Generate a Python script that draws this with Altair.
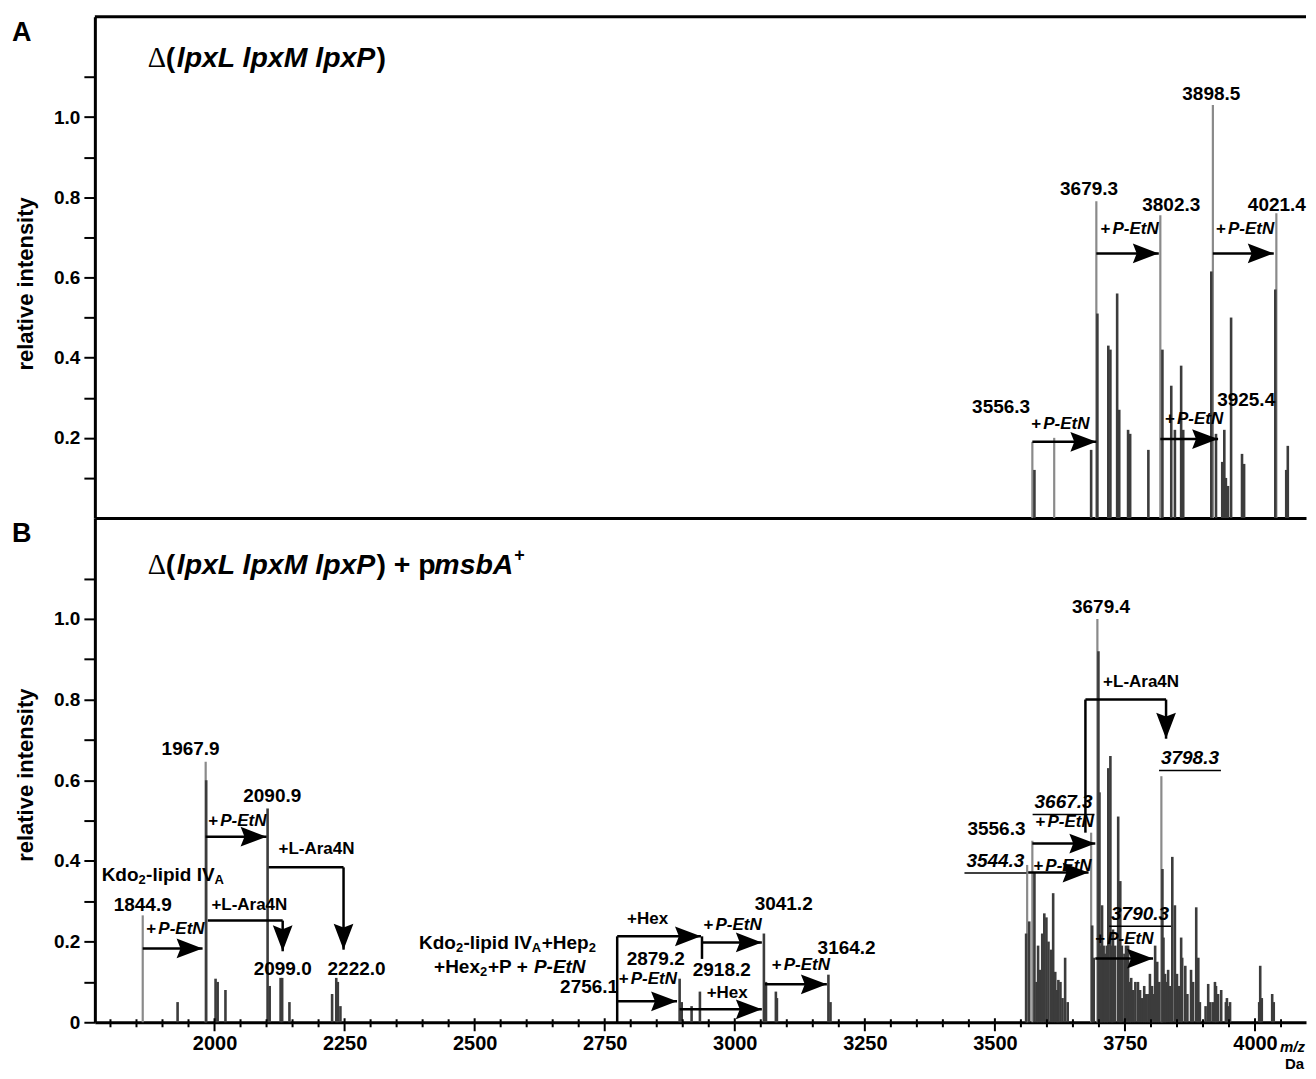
import altair as alt
import pandas as pd

FONT = "Liberation Sans"
X_MIN, X_MAX = 1770, 4098
W = 1213
HA, HB = 502, 505

# ---------------- Panel A data ----------------
A_LIGHT_MZ = [3572, 3614, 3695, 3818, 3919, 4041]
A_LIGHT_INT = [0.19, 0.20, 0.79, 0.755, 1.03, 0.76]
A_DARK_MZ = [3576, 3685, 3697, 3718, 3722, 3735, 3739, 3756, 3760, 3795, 3822, 3839, 3846, 3858,
             3862, 3916, 3925, 3937, 3941, 3944, 3948, 3954, 3975, 3979, 4039, 4060, 4063]
A_DARK_INT = [0.12, 0.17, 0.51, 0.43, 0.42, 0.56, 0.27, 0.22, 0.21, 0.17, 0.42, 0.33, 0.22, 0.38,
              0.22, 0.615, 0.21, 0.14, 0.22, 0.10, 0.08, 0.50, 0.16, 0.135, 0.57, 0.12, 0.18]
A_LAB_TEXT = ["3556.3", "3679.3", "3802.3", "3898.5", "4021.4", "3925.4"]
A_LAB_MZ = [3512, 3681, 3839, 3916, 4042, 3983]
A_LAB_INT = [0.277, 0.82, 0.78, 1.057, 0.78, 0.294]
A_ARR_FROM = [3572, 3695, 3818, 3919]
A_ARR_TO = [3695, 3815, 3929, 4036]
A_ARR_INT = [0.19, 0.66, 0.197, 0.66]
A_PE_MZ = [3570, 3703, 3827, 3925]
A_PE_INT = [0.234, 0.72, 0.247, 0.72]

# ---------------- Panel B data ----------------
B_LIGHT_MZ = [1862, 1983, 3562, 3572, 3685, 3697, 3820]
B_LIGHT_INT = [0.265, 0.646, 0.39, 0.45, 0.47, 1.0, 0.61]
B_DARK_MZ = [1929, 1984, 2002, 2006, 2021, 2102, 2106, 2127, 2130, 2144, 2226, 2234, 2237, 2242,
             2894, 2898, 2917, 2933, 3056, 3060, 3079, 3081, 3180, 3184,
             3560, 3566, 3576, 3580, 3583, 3587, 3591, 3595, 3599, 3603, 3608, 3612, 3616, 3620,
             3622, 3626, 3630, 3635, 3640,
             3687, 3690, 3699, 3701, 3704, 3706, 3709, 3712, 3715, 3718, 3722, 3725, 3727, 3731,
             3737, 3741, 3744, 3749, 3752, 3756, 3759, 3762, 3766, 3770, 3775, 3779, 3783, 3787,
             3791, 3795, 3798, 3802, 3804, 3808, 3812, 3816, 3822, 3824, 3827, 3829, 3833, 3837,
             3841, 3846, 3850, 3854, 3858, 3860, 3866, 3870, 3877, 3881, 3887, 3891, 3894, 3905,
             3910, 3914, 3919, 3923, 3925, 3929, 3935, 3944, 3946, 3950, 3952, 4008, 4010, 4013,
             4033, 4036]
B_DARK_INT = [0.05, 0.60, 0.108, 0.10, 0.08, 0.53, 0.09, 0.11, 0.11, 0.05, 0.07, 0.11, 0.10, 0.04,
              0.108, 0.05, 0.04, 0.076, 0.22, 0.10, 0.076, 0.06, 0.118, 0.05,
              0.22, 0.25, 0.37, 0.10, 0.19, 0.13, 0.22, 0.27, 0.26, 0.20, 0.18, 0.32, 0.125, 0.08,
              0.105, 0.10, 0.06, 0.16, 0.05,
              0.24, 0.16, 0.92, 0.57, 0.19, 0.29, 0.19, 0.17, 0.19, 0.63, 0.66, 0.19, 0.23, 0.19,
              0.51, 0.35, 0.19, 0.17, 0.19, 0.19, 0.10, 0.11, 0.08, 0.10, 0.10, 0.08, 0.06, 0.09,
              0.07, 0.07, 0.12, 0.09, 0.07, 0.19, 0.15, 0.10, 0.38, 0.21, 0.12, 0.10, 0.13, 0.09,
              0.41, 0.29, 0.12, 0.09, 0.21, 0.16, 0.14, 0.07, 0.13, 0.10, 0.285, 0.16, 0.05, 0.04,
              0.095, 0.05, 0.05, 0.10, 0.09, 0.07, 0.08, 0.05, 0.06, 0.04, 0.05, 0.05, 0.14, 0.06,
              0.07, 0.05]
B_LAB_TEXT = ["1844.9", "1967.9", "2090.9", "2099.0", "2222.0", "2756.1", "2879.2", "2918.2",
              "3041.2", "3164.2", "3556.3", "3679.4"]
B_LAB_MZ = [1862, 1954, 2111, 2131, 2273, 2720, 2848, 2975, 3094, 3215, 3503, 3704]
B_LAB_INT = [0.29, 0.678, 0.56, 0.133, 0.133, 0.088, 0.157, 0.13, 0.292, 0.185, 0.48, 1.03]
B_ULAB_TEXT = ["3544.3", "3667.3", "3790.3", "3798.3"]
B_ULAB_MZ = [3501, 3632, 3779, 3875]
B_ULAB_INT = [0.40, 0.545, 0.268, 0.654]
B_PE_MZ = [1869, 1988, 2777, 2940, 3071, 3578, 3574, 3693]
B_PE_INT = [0.23, 0.50, 0.106, 0.24, 0.143, 0.496, 0.388, 0.206]
B_PLAIN_TEXT = ["+L-Ara4N", "+L-Ara4N", "+L-Ara4N", "+Hex", "+Hex"]
B_PLAIN_MZ = [1994, 2123, 3708, 2793, 2946]
B_PLAIN_INT = [0.29, 0.43, 0.843, 0.255, 0.072]
B_ARR_FROM = [1862, 1983, 3572, 3564, 3693, 2774, 2774, 2937, 2894, 3058]
B_ARR_TO = [1977, 2100, 3693, 3680, 3804, 2935, 2889, 3052, 3052, 3177]
B_ARR_INT = [0.183, 0.46, 0.443, 0.371, 0.158, 0.213, 0.052, 0.198, 0.032, 0.094]
B_ELB_FROM = [1987, 2104, 3674]
B_ELB_TO = [2131, 2248, 3829]
B_ELB_LEVEL = [0.252, 0.384, 0.80]
B_ELB_TIP = [0.176, 0.18, 0.703]
B_VC_MZ = [2774, 2937, 3674]
B_VC_LOW = [0.0, 0.157, 0.47]
B_VC_HIGH = [0.213, 0.213, 0.80]
KDO_MZ, KDO_INT = [1783], [0.364]
HEP_MZ, HEP_INT = [2393], [0.197]
HEX_MZ, HEX_INT = [2422], [0.138]

MAJOR_TICKS = [2000, 2250, 2500, 2750, 3000, 3250, 3500, 3750, 4000]
MINOR_TICKS = [t for t in range(1800, 4100, 50) if t not in MAJOR_TICKS]
Y_TICKS_A = [0.1, 0.2, 0.3, 0.4, 0.5, 0.6, 0.7, 0.8, 0.9, 1.0, 1.1]
Y_TICKS_B = [0.0] + Y_TICKS_A

# ---------------- helpers ----------------
XSCALE = alt.Scale(domain=[X_MIN, X_MAX], nice=False, zero=False)
YSCALE = alt.Scale(domain=[0, 1.25], nice=False, zero=False)
HEAD_RIGHT = "M0,0 L-1,-0.38 L-0.85,0 L-1,0.38 Z"
HEAD_DOWN = "M0,0 L-0.38,-1 L0,-0.85 L0.38,-1 Z"
HEAD_SIZE = 2704
LIGHT = "#8a8a8a"
DARK = "#3c3c3c"
DUMMY = pd.DataFrame({"a": [0]})

AXES = {"x": None, "y": None}


def X(field="mz"):
    return alt.X(f"{field}:Q", scale=XSCALE, axis=AXES["x"])


def Y(field="intensity"):
    return alt.Y(f"{field}:Q", scale=YSCALE, axis=AXES["y"])


def df_pts(mz, inten, **extra):
    d = {"mz": mz, "intensity": inten}
    d.update(extra)
    return pd.DataFrame(d)


def yaxis(values, title_y):
    return alt.Axis(
        values=values,
        labelExpr="datum.value == 0 ? '0' : (round(datum.value*10) % 2 == 0 ? format(datum.value, '.1f') : '')",
        title="relative intensity", titleFont=FONT, titleFontSize=22, titleFontWeight="bold",
        titleColor="black", titleAngle=270, titleAlign="center", titleBaseline="middle",
        titleX=-69, titleY=title_y,
        labelFont=FONT, labelFontSize=19, labelFontWeight="bold", labelColor="black",
        labelPadding=4, labelOverlap=False, labelFlush=False,
        tickSize=11, tickWidth=2, tickColor="black",
        domainColor="black", domainWidth=3, grid=False)


def peaks(mz, inten, color, width):
    return alt.Chart(df_pts(mz, inten)).mark_rule(color=color, strokeWidth=width).encode(
        x=X(), y=Y(), y2=alt.Y2(datum=0))


def labels(texts, mz, inten, size=19, italic=False):
    d = df_pts(mz, inten, label=texts)
    return alt.Chart(d).mark_text(font=FONT, fontSize=size, fontWeight="bold",
                                  fontStyle="italic" if italic else "normal",
                                  align="center", baseline="middle", color="black").encode(
        x=X(), y=Y(), text="label:N")


def underlines(mz, inten):
    return alt.Chart(df_pts(mz, inten)).mark_rule(color="black", strokeWidth=1.5, xOffset=-31,
                                                  x2Offset=31, yOffset=12).encode(
        x=X(), x2=alt.X2("mz:Q"), y=Y())


def pe_labels(mz, inten):
    d = df_pts(mz, inten)
    plus = alt.Chart(d).mark_text(text="+", font=FONT, fontSize=17, fontWeight="bold",
                                  align="left", baseline="middle", color="black").encode(x=X(), y=Y())
    pe = alt.Chart(d).mark_text(text="P-EtN", font=FONT, fontSize=17, fontWeight="bold",
                                fontStyle="italic", dx=12, align="left", baseline="middle",
                                color="black").encode(x=X(), y=Y())
    return [plus, pe]


def plain_left(texts, mz, inten, size=17):
    d = df_pts(mz, inten, label=texts)
    return alt.Chart(d).mark_text(font=FONT, fontSize=size, fontWeight="bold", align="left",
                                  baseline="middle", color="black").encode(x=X(), y=Y(), text="label:N")


def arrows(start, end, level):
    d = pd.DataFrame({"start": start, "end": end, "level": level})
    line = alt.Chart(d).mark_rule(color="black", strokeWidth=2.5).encode(
        x=X("start"), x2=alt.X2("end:Q"), y=Y("level"))
    head = alt.Chart(d).mark_point(shape=HEAD_RIGHT, size=HEAD_SIZE, filled=True, color="black",
                                   opacity=1, strokeWidth=0).encode(x=X("end"), y=Y("level"))
    return [line, head]


def elbows(start, end, level, tip):
    d = pd.DataFrame({"start": start, "end": end, "level": level, "tip": tip})
    hline = alt.Chart(d).mark_rule(color="black", strokeWidth=2.5).encode(
        x=X("start"), x2=alt.X2("end:Q"), y=Y("level"))
    vline = alt.Chart(d).mark_rule(color="black", strokeWidth=2.5).encode(
        x=X("end"), y=Y("level"), y2=alt.Y2("tip:Q"))
    head = alt.Chart(d).mark_point(shape=HEAD_DOWN, size=HEAD_SIZE, filled=True, color="black",
                                   opacity=1, strokeWidth=0).encode(x=X("end"), y=Y("tip"))
    return [hline, vline, head]


def vconnectors(mz, low, high):
    d = pd.DataFrame({"mz": mz, "low": low, "high": high})
    return alt.Chart(d).mark_rule(color="black", strokeWidth=2.5).encode(
        x=X("mz"), y=Y("low"), y2=alt.Y2("high:Q"))


def compound(mz, inten, segments):
    d = df_pts(mz, inten)
    out = []
    for text, dx, dy, size, italic in segments:
        out.append(alt.Chart(d).mark_text(text=text, font=FONT, fontSize=size, fontWeight="bold",
                                          fontStyle="italic" if italic else "normal", dx=dx, dy=dy,
                                          align="left", baseline="middle", color="black").encode(
            x=X(), y=Y()))
    return out


def fixed_text(text, x, y, size, weight="bold", style="normal", font=FONT, dy=0):
    return alt.Chart(DUMMY).mark_text(text=text, font=font, fontSize=size, fontWeight=weight,
                                      fontStyle=style, align="left", baseline="middle", dy=dy,
                                      color="black").encode(x=alt.value(x), y=alt.value(y))


def title_segments(y, with_msba):
    segs = [
        fixed_text("\u0394", 53, y, 28.5, weight="normal", font="Liberation Serif"),
        fixed_text("(", 71, y, 28.5),
        fixed_text("lpxL lpxM lpxP", 82, y, 28.5, style="italic"),
    ]
    if with_msba:
        segs += [
            fixed_text(") + p", 282, y, 28.5),
            fixed_text("msbA", 340, y, 28.5, style="italic"),
            fixed_text("+", 420, y, 18, dy=-9),
        ]
    else:
        segs.append(fixed_text(")", 282, y, 28.5))
    return segs


KDO_SEGS = [("Kdo", 0, 0, 19, False), ("2", 37, 5, 13, False), ("-lipid IV", 44.5, 0, 19, False),
            ("A", 113, 5, 13, False)]
HEP_SEGS = KDO_SEGS + [("+Hep", 123, 0, 19, False), ("2", 170, 5, 13, False)]
HEX_SEGS = [("+Hex", 0, 0, 19, False), ("2", 46, 5, 13, False), ("+P + ", 54, 0, 19, False),
            ("P-EtN", 100, 0, 19, True)]

# ---------------- Panel A ----------------
AXES["x"] = alt.Axis(labels=False, ticks=False, domain=True, domainColor="black", domainWidth=3,
                     grid=False, title=None)
AXES["y"] = yaxis(Y_TICKS_A, 267)

top_border = alt.Chart(DUMMY).mark_rule(color="black", strokeWidth=3).encode(
    x=alt.value(0), x2=alt.value(W), y=alt.value(0))

layers_a = [
    peaks(A_LIGHT_MZ, A_LIGHT_INT, LIGHT, 2.2),
    peaks(A_DARK_MZ, A_DARK_INT, DARK, 2.6),
    top_border,
    *arrows(A_ARR_FROM, A_ARR_TO, A_ARR_INT),
    labels(A_LAB_TEXT, A_LAB_MZ, A_LAB_INT),
    *pe_labels(A_PE_MZ, A_PE_INT),
    fixed_text("A", -83, 16, 27),
    *title_segments(41, False),
]
panel_a = alt.layer(*layers_a).properties(width=W, height=HA)

# ---------------- Panel B ----------------
AXES["x"] = alt.Axis(values=MAJOR_TICKS, format="d", ticks=False, labelPadding=11,
                     labelFont=FONT, labelFontSize=20, labelFontWeight="bold", labelColor="black",
                     labelFlush=False, labelOverlap=False,
                     domain=True, domainColor="black", domainWidth=3, grid=False, title=None)
AXES["y"] = yaxis(Y_TICKS_B, 257)

major = alt.Chart(pd.DataFrame({"mz": MAJOR_TICKS})).mark_rule(
    color="black", strokeWidth=2, yOffset=-4, y2Offset=9).encode(
    x=X(), y=alt.Y(datum=0, scale=YSCALE, axis=AXES["y"]), y2=alt.Y2(datum=0))
minor = alt.Chart(pd.DataFrame({"mz": MINOR_TICKS})).mark_rule(
    color="black", strokeWidth=2, yOffset=-3, y2Offset=5).encode(
    x=X(), y=alt.Y(datum=0, scale=YSCALE, axis=AXES["y"]), y2=alt.Y2(datum=0))

mz_label = alt.Chart(DUMMY).mark_text(text="m/z", font=FONT, fontSize=15, fontWeight="bold",
                                      fontStyle="italic", align="left", baseline="middle",
                                      dx=25, color="black").encode(
    x=alt.X(datum=4000, scale=XSCALE, axis=AXES["x"]), y=alt.value(HB + 25))
da_label = alt.Chart(DUMMY).mark_text(text="Da", font=FONT, fontSize=15, fontWeight="bold",
                                      align="left", baseline="middle", dx=30, color="black").encode(
    x=alt.X(datum=4000, scale=XSCALE, axis=AXES["x"]), y=alt.value(HB + 42))

layers_b = [
    peaks(B_LIGHT_MZ, B_LIGHT_INT, LIGHT, 2.2),
    peaks(B_DARK_MZ, B_DARK_INT, DARK, 2.6),
    major, minor,
    vconnectors(B_VC_MZ, B_VC_LOW, B_VC_HIGH),
    *arrows(B_ARR_FROM, B_ARR_TO, B_ARR_INT),
    *elbows(B_ELB_FROM, B_ELB_TO, B_ELB_LEVEL, B_ELB_TIP),
    labels(B_LAB_TEXT, B_LAB_MZ, B_LAB_INT),
    labels(B_ULAB_TEXT, B_ULAB_MZ, B_ULAB_INT, italic=True),
    underlines(B_ULAB_MZ, B_ULAB_INT),
    *pe_labels(B_PE_MZ, B_PE_INT),
    plain_left(B_PLAIN_TEXT, B_PLAIN_MZ, B_PLAIN_INT),
    *compound(KDO_MZ, KDO_INT, KDO_SEGS),
    *compound(HEP_MZ, HEP_INT, HEP_SEGS),
    *compound(HEX_MZ, HEX_INT, HEX_SEGS),
    fixed_text("B", -83, 16, 27),
    *title_segments(47, True),
    mz_label, da_label,
]
panel_b = alt.layer(*layers_b).properties(width=W, height=HB)

chart = alt.vconcat(panel_a, panel_b, spacing=0, bounds="flush").properties(
    padding={"left": 4, "top": 6, "right": 0, "bottom": 0},
    background="white",
).configure_view(stroke=None)

chart.save("out.html", embed_options={"renderer": "svg", "actions": False})
